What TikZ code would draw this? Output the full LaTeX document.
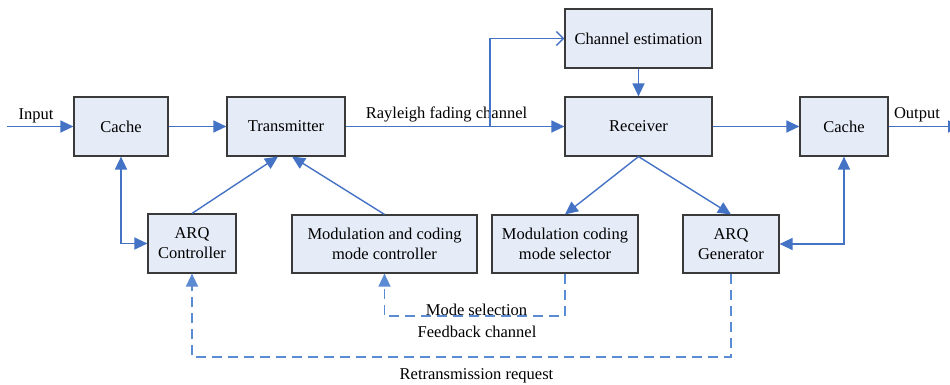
\documentclass[tikz,border=0pt]{standalone}
\usepackage{fontspec}
\setmainfont{Liberation Serif}
\usetikzlibrary{arrows.meta,calc}
\definecolor{lineblue}{HTML}{4472C4}
\definecolor{dashblue}{HTML}{5B8BD3}
\definecolor{boxfill}{HTML}{E6ECF7}
\definecolor{boxline}{HTML}{3A3A3A}
\tikzset{
  blk/.style={draw=boxline,line width=0.6pt,fill=boxfill,inner sep=0pt,align=center,
    font=\fontsize{8.25}{10}\selectfont},
  lbl/.style={inner sep=0pt,font=\fontsize{8.25}{10}\selectfont},
  conn/.style={draw=lineblue,line width=0.7pt},
  arr/.style={conn,-{Triangle[length=6.5pt,width=6pt]}},
  darr/.style={conn,{Triangle[length=6.5pt,width=6pt]}-{Triangle[length=6.5pt,width=6pt]}},
  oarr/.style={conn,-{Straight Barb[length=3.5pt,width=7pt]}},
  dsh/.style={arr,draw=dashblue,dash pattern=on 5pt off 3pt},
}
\begin{document}
\begin{tikzpicture}[x=0.5pt,y=-0.5pt]
\useasboundingbox (0,0) rectangle (950,385);
% blocks
\node[blk,minimum width=47pt,minimum height=29.5pt] (cache1) at (121,126.5) {Cache};
\node[blk,minimum width=59pt,minimum height=29.5pt] (tx) at (286,126.5) {Transmitter};
\node[blk,minimum width=73.5pt,minimum height=29.5pt] (chest) at (638.5,38.5) {Channel estimation};
\node[blk,minimum width=73.5pt,minimum height=29.5pt] (rx) at (638.5,126.5) {Receiver};
\node[blk,minimum width=44pt,minimum height=29.5pt] (cache2) at (844,126.5) {Cache};
\node[blk,minimum width=44pt,minimum height=29.5pt] (arqc) at (192,243.5) {ARQ\\Controller};
\node[blk,minimum width=92.5pt,minimum height=29pt] (mcc) at (384.5,244) {Modulation and coding\\mode controller};
\node[blk,minimum width=73pt,minimum height=29pt] (mcs) at (565,244) {Modulation coding\\mode selector};
\node[blk,minimum width=48pt,minimum height=29pt] (arqg) at (731,244) {ARQ\\Generator};
% free ends
\coordinate (in) at (7,126.5);
\coordinate (out) at (961,126.5);
\coordinate (br) at (490,126.5);
\coordinate (ms) at (565,316);
\coordinate (rr) at (731,357);
% labels
\node[lbl] (linput) at (36,116) {Input};
\node[lbl] (lray) at (446.5,114) {Rayleigh fading channel};
\node[lbl] (lout) at (917,115) {Output};
\node[lbl] (lmode) at (476.5,310) {Mode selection};
\node[lbl] (lfb) at (477,332) {Feedback channel};
\node[lbl] (lretx) at (476.5,376) {Retransmission request};
% connectors
\draw[arr] (in) -- (cache1.west);
\draw[arr] (cache1.east) -- (tx.west);
\draw[arr] (tx.east) -- (rx.west);
\draw[arr] (rx.east) -- (cache2.west);
\draw[arr] (cache2.east) -- (out);
\draw[oarr] (br) |- (chest.west);
\draw[arr] (chest.south) -- (rx.north);
\draw[darr] (cache1.south) |- (arqc.west);
\draw[arr] (arqc.north) -- ($(tx.south)+(-8,0)$);
\draw[arr] (mcc.north) -- ($(tx.south)+(6,0)$);
\draw[arr] (rx.south) -- (mcs.north);
\draw[arr] (rx.south) -- (arqg.north);
\draw[darr] (cache2.south) |- (arqg.east);
\draw[dsh] (mcs.south) -- (ms) -| (mcc.south);
\draw[dsh] (arqg.south) -- (rr) -| (arqc.south);
\end{tikzpicture}
\end{document}
